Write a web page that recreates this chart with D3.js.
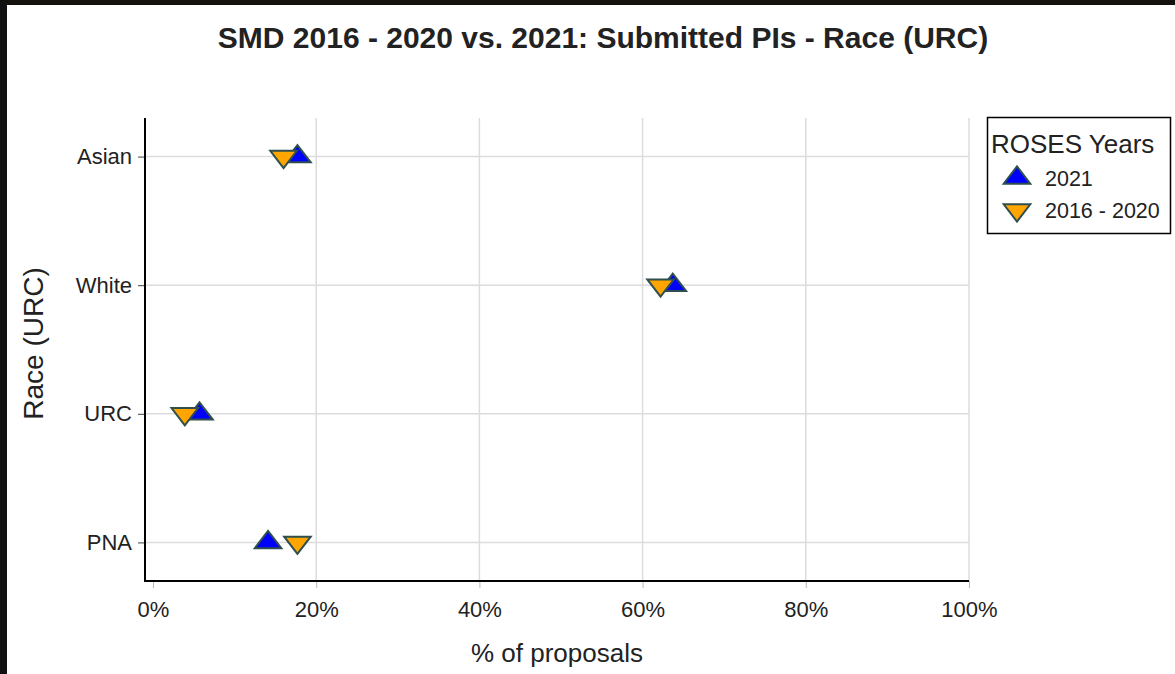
<!DOCTYPE html>
<html>
<head>
<meta charset="utf-8">
<script src="https://cdn.jsdelivr.net/npm/d3@7"></script>
<style>
  html, body { margin: 0; padding: 0; background: #fff; }
  svg { display: block; }
  text { font-family: "Liberation Sans", Arial, sans-serif; fill: #222; }
</style>
</head>
<body>
<svg id="chart" width="1175" height="674"></svg>
<script>
// ---- data ----
const categories = ["Asian", "White", "URC", "PNA"];
const values2021 = [17.7, 63.7, 5.7, 14.1];
const values2016_2020 = [16.0, 62.2, 3.9, 17.7];
const seriesNames = ["2021", "2016 - 2020"];
const xTickValues = [0, 20, 40, 60, 80, 100];
const xTickLabels = ["0%", "20%", "40%", "60%", "80%", "100%"];

const svg = d3.select("#chart");
const W = 1175, H = 674;

// black frame strips from the screenshot
svg.append("rect").attr("x", 0).attr("y", 0).attr("width", W).attr("height", 5).attr("fill", "#15120e");
svg.append("rect").attr("x", 0).attr("y", 0).attr("width", 7).attr("height", H).attr("fill", "#111");

const plot = { left: 145, right: 969, top: 118, bottom: 581 };

const x = d3.scaleLinear().domain([-1, 100]).range([plot.left, plot.right]);
x.domain([-(153 - plot.left) / ((plot.right - 153) / 100), 100]);

const y = d3.scalePoint().domain(categories).range([plot.top, plot.bottom]).padding(0.3);

// grid lines
const grid = svg.append("g");
grid.selectAll("line.h").data(categories).join("line")
  .attr("x1", plot.left).attr("x2", plot.right)
  .attr("y1", d => y(d)).attr("y2", d => y(d))
  .attr("stroke", "#dcdcdc").attr("stroke-width", 1.5);
grid.selectAll("line.v").data(xTickValues.filter(v => v > 0)).join("line")
  .attr("x1", d => x(d)).attr("x2", d => x(d))
  .attr("y1", plot.top).attr("y2", plot.bottom)
  .attr("stroke", "#dcdcdc").attr("stroke-width", 1.5);

// x axis
const xAxis = d3.axisBottom(x).tickValues(xTickValues).tickFormat((d, i) => xTickLabels[i]).tickSize(7).tickPadding(13);
const gx = svg.append("g").attr("transform", `translate(0,${plot.bottom})`).call(xAxis);
gx.select(".domain").remove();
gx.selectAll(".tick line").attr("stroke", "#bbb");
gx.selectAll(".tick text").style("font-size", "22px").attr("fill", "#333")
  .style("font-family", "'Liberation Sans', Arial, sans-serif");
svg.append("line").attr("x1", plot.left).attr("x2", plot.right)
  .attr("y1", plot.bottom).attr("y2", plot.bottom).attr("stroke", "#000").attr("stroke-width", 2);

// y axis
const yAxis = d3.axisLeft(y).tickSize(7).tickPadding(6);
const gy = svg.append("g").attr("transform", `translate(${plot.left},0)`).call(yAxis);
gy.select(".domain").remove();
gy.selectAll(".tick line").attr("stroke", "#444");
gy.selectAll(".tick text").style("font-size", "22px").attr("fill", "#333")
  .style("font-family", "'Liberation Sans', Arial, sans-serif");
svg.append("line").attr("x1", plot.left).attr("x2", plot.left)
  .attr("y1", plot.top).attr("y2", plot.bottom + 1).attr("stroke", "#000").attr("stroke-width", 2);

// markers
const r = 11.5, rt = r * 2 / Math.sqrt(3);
const upPath = `M${-rt},${r / 2}H${rt}L0,${-r}Z`;
const downPath = `M${-rt},${-r / 2}H${rt}L0,${r}Z`;
const stroke = "#2f4f4f";

svg.append("g").selectAll("path").data(categories).join("path")
  .attr("d", upPath)
  .attr("transform", (d, i) => `translate(${x(values2021[i])},${y(d)})`)
  .attr("fill", "#0000ff").attr("stroke", stroke).attr("stroke-width", 2);

svg.append("g").selectAll("path").data(categories).join("path")
  .attr("d", downPath)
  .attr("transform", (d, i) => `translate(${x(values2016_2020[i])},${y(d)})`)
  .attr("fill", "#ffa500").attr("stroke", stroke).attr("stroke-width", 2);

// titles
svg.append("text").attr("x", 603).attr("y", 48).attr("text-anchor", "middle")
  .style("font-size", "30px").style("font-weight", "bold").attr("fill", "#000")
  .text("SMD 2016 - 2020 vs. 2021: Submitted PIs - Race (URC)");

svg.append("text").attr("x", (plot.left + plot.right) / 2).attr("y", 662).attr("text-anchor", "middle")
  .style("font-size", "26px").attr("fill", "#333").text("% of proposals");

svg.append("text").attr("transform", `translate(43,${(plot.top + plot.bottom) / 2 - 6}) rotate(-90)`)
  .attr("text-anchor", "middle").style("font-size", "28px").attr("fill", "#333").text("Race (URC)");

// legend
const lg = svg.append("g");
lg.append("rect").attr("x", 987.5).attr("y", 117.5).attr("width", 183).attr("height", 116)
  .attr("fill", "#fff").attr("stroke", "#000").attr("stroke-width", 1.5);
lg.append("text").attr("x", 991).attr("y", 153).style("font-size", "26px").attr("fill", "#222").text("ROSES Years");
const legendPaths = [upPath, downPath];
const legendFills = ["#0000ff", "#ffa500"];
seriesNames.forEach((name, i) => {
  const cy = 178 + i * 32;
  lg.append("path").attr("d", legendPaths[i]).attr("transform", `translate(1017,${cy})`)
    .attr("fill", legendFills[i]).attr("stroke", stroke).attr("stroke-width", 2);
  lg.append("text").attr("x", 1045).attr("y", cy + 8).style("font-size", "21.5px").attr("fill", "#222").text(name);
});
</script>
</body>
</html>
